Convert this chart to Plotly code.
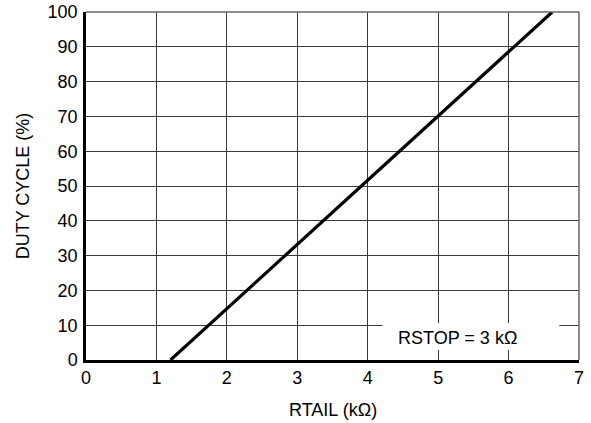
import plotly.graph_objects as go

# Data (straight line)
rtail_kohm = [1.2, 2.0, 3.0, 4.0, 5.0, 6.0, 6.62]
duty_cycle_pct = [0, 14.8, 33.2, 51.7, 70.1, 88.6, 100]
x_ticks = [0, 1, 2, 3, 4, 5, 6, 7]
y_ticks = [0, 10, 20, 30, 40, 50, 60, 70, 80, 90, 100]
note_text = "RSTOP = 3 kΩ"
x_title = "RTAIL (kΩ)"
y_title = "DUTY CYCLE (%)"

FONT = "Liberation Sans, Arial, sans-serif"
FS = 18

fig = go.Figure()
fig.add_trace(go.Scatter(
    x=rtail_kohm, y=duty_cycle_pct, mode="lines",
    line=dict(color="black", width=3.2), showlegend=False, hoverinfo="skip",
))

fig.update_layout(
    width=591, height=423,
    margin=dict(l=86, r=12, t=12, b=63),
    paper_bgcolor="white", plot_bgcolor="white",
    font=dict(family=FONT, size=FS, color="black"),
    xaxis=dict(
        range=[0, 7], tickvals=x_ticks, ticktext=[str(v) for v in x_ticks],
        showgrid=True, gridcolor="#3a3a3a", gridwidth=1,
        showline=True, linecolor="black", linewidth=2.5,
        zeroline=False, ticks="", ticklabelstandoff=0,
        automargin=False,
        tickfont=dict(size=FS),
    ),
    yaxis=dict(
        range=[0, 100], tickvals=y_ticks, ticktext=[str(v) for v in y_ticks],
        showgrid=True, gridcolor="#3a3a3a", gridwidth=1,
        showline=True, linecolor="black", linewidth=2.5,
        zeroline=False, ticks="", ticklabelstandoff=2,
        automargin=False,
        title=dict(text=y_title, font=dict(size=FS), standoff=14),
        tickfont=dict(size=FS),
    ),
)

# x axis title placed as paper annotation
fig.add_annotation(x=0.5, y=-0.144, xref="paper", yref="paper", text=x_title,
                   showarrow=False, xanchor="center", yanchor="middle",
                   font=dict(size=FS, family=FONT, color="black"))

# top/right frame
fig.add_shape(type="line", xref="paper", yref="paper", x0=0, x1=1, y0=1, y1=1,
              line=dict(color="#666666", width=1.5), layer="above")
fig.add_shape(type="line", xref="paper", yref="paper", x0=1, x1=1, y0=0, y1=1,
              line=dict(color="#666666", width=1.5), layer="above")

# white box behind the note
fig.add_shape(type="rect", xref="x", yref="y", x0=4.21, x1=6.72, y0=2.9, y1=10.6,
              fillcolor="white", line=dict(width=0), layer="above")
fig.add_annotation(x=5.28, y=6.4, xref="x", yref="y", text=note_text,
                   showarrow=False, font=dict(size=FS, family=FONT, color="black"))

fig.write_html("out.html")
